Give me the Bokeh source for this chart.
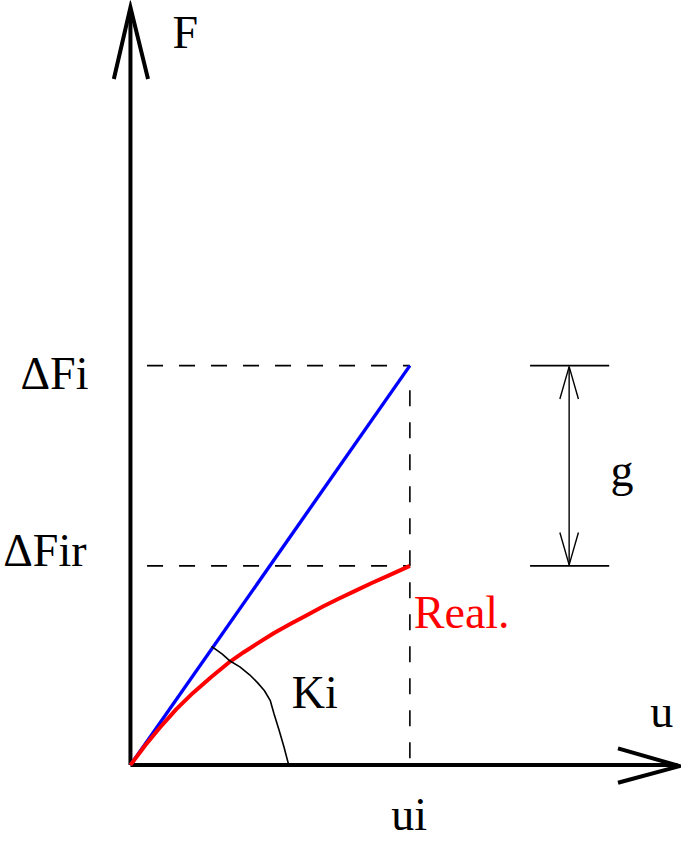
from bokeh.plotting import figure
from bokeh.models import Range1d
from bokeh.embed import file_html
from bokeh.resources import INLINE
from bokeh.core.properties import value

# ---- diagram data (units: u horizontal, F vertical; origin at axis corner) ----
# axes
f_axis_x = [0, 0]
f_axis_y = [0, 770]
f_head_x = [-17, 0, 18]
f_head_y = [699, 772, 699]
u_axis_x = [0, 560]
u_axis_y = [0, 0]
u_head_x = [499, 562, 499]
u_head_y = [17, -1, -18]

# ideal (linear) response
lin_u = [0, 286]
lin_F = [0, 407]

# real response
real_u = [0, 15, 30, 47, 64, 83, 102, 116, 130, 147, 164, 180, 197, 213, 230, 247, 264, 286]
real_F = [0, 20, 38, 57, 73.5, 90, 105.5, 115, 124, 134.5, 144, 152.5, 161.5, 169.5, 177.5, 185.5, 193, 203]

# Ki arc
ki_u = [83, 94, 102, 112, 122, 130, 137, 143, 147, 152, 157, 162]
ki_F = [121, 113, 106, 100, 92, 84, 76, 66, 52, 36, 19, 0]

# reference levels
dFi = 407
dFir = 203
ui = 286

# g bracket
g_x0, g_x1, g_xm = 409, 490, 449
g_head = 34
g_half = 9.5

p = figure(width=681, height=848, output_backend="svg", toolbar_location=None,
           x_range=Range1d(-133, 564), y_range=Range1d(-85, 779), min_border=0)
p.axis.visible = False
p.grid.visible = False
p.outline_line_color = None
p.background_fill_color = "white"
p.border_fill_color = "white"

# axes
p.line(f_axis_x, f_axis_y, line_color="black", line_width=4)
p.line(f_head_x, f_head_y, line_color="black", line_width=4, line_join="miter")
p.line(u_axis_x, u_axis_y, line_color="black", line_width=4)
p.line(u_head_x, u_head_y, line_color="black", line_width=4, line_join="miter")

# dashed guides
p.line([17, ui], [dFi, dFi], line_color="black", line_width=1.6, line_dash="16 16")
p.line([17, ui], [dFir, dFir], line_color="black", line_width=1.6, line_dash="16 16")
p.line([ui, ui], [382, 0], line_color="black", line_width=1.6, line_dash="16 16")

# curves
p.line(lin_u, lin_F, line_color="#0000ff", line_width=3.4)
p.line(real_u, real_F, line_color="#ff0000", line_width=4, line_join="round")
p.line(ki_u, ki_F, line_color="black", line_width=1.6, line_join="round")

# g bracket
p.line([g_x0, g_x1], [dFi, dFi], line_color="black", line_width=1.6)
p.line([g_x0, g_x1], [dFir, dFir], line_color="black", line_width=1.6)
p.line([g_xm, g_xm], [dFir + 1, dFi - 1], line_color="black", line_width=1.4)
p.line([g_xm - g_half, g_xm, g_xm + g_half], [dFi - g_head, dFi - 1, dFi - g_head],
       line_color="black", line_width=1.4)
p.line([g_xm - g_half, g_xm, g_xm + g_half], [dFir + g_head, dFir + 1, dFir + g_head],
       line_color="black", line_width=1.4)

font = value("Liberation Serif")
fs = "46px"

def label(x, y, t, align="left", color="black"):
    p.text(x=[x], y=[y], text=[t], text_font=font, text_font_size=fs,
           text_color=color, text_align=align, text_baseline="alphabetic")

label(43, 746, "F")
label(-43, 399, "ΔFi", align="right")
label(-45, 219, "ΔFir", align="right")
label(503, 300, "g", align="center")
label(290, 155, "Real.", color="#ff0000")
label(165, 74, "Ki")
label(532, 55, "u")
label(267, -50, "ui")

open("out.html", "w").write(file_html(p, INLINE))
